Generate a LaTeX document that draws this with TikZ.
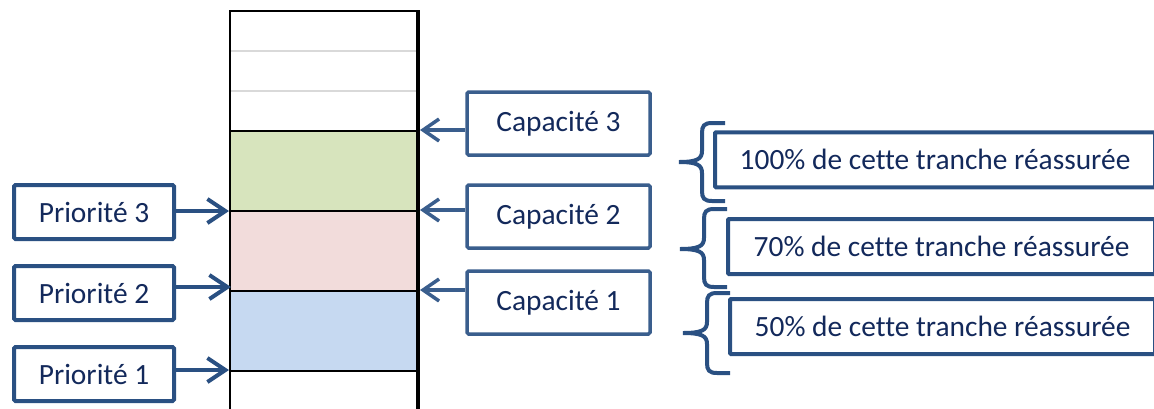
\documentclass[tikz,border=0pt]{standalone}
\usepackage{fontspec}
\newfontfamily\lblfont[Ligatures={NoCommon}]{Carlito}
\usetikzlibrary{arrows.meta}
\definecolor{boxblue}{HTML}{2A5082}
\definecolor{capblue}{HTML}{3A5E8D}
\definecolor{txtblue}{HTML}{13295B}
\definecolor{fgreen}{HTML}{D7E4BD}
\definecolor{fpink}{HTML}{F2DCDB}
\definecolor{fblue}{HTML}{C6D9F1}
\definecolor{lgray}{HTML}{D9D9D9}
\tikzset{
  lbl/.style={font=\lblfont\fontsize{29.4}{34}\selectfont, text=txtblue, inner sep=0pt, fill=white},
  pbox/.style={lbl, draw=boxblue, line width=4pt, rounded corners=1.5pt, minimum width=160pt, minimum height=54pt},
  cbox/.style={lbl, draw=capblue, line width=3.5pt, rounded corners=1.5pt, minimum width=183pt, minimum height=63pt},
  rbox/.style={lbl, draw=boxblue, line width=4pt, rounded corners=1pt, minimum height=55pt},
  arr/.style={draw=boxblue, line width=4pt, -{Straight Barb[length=18pt,width=24pt,line width=4pt]}},
  carr/.style={draw=capblue, line width=3.5pt, -{Straight Barb[length=16pt,width=22pt,line width=3.5pt]}},
  brace/.style={draw=boxblue, line width=4pt},
}
\begin{document}
\begin{tikzpicture}[x=1pt,y=-1pt]
\useasboundingbox (0,0) rectangle (1154,408);
\clip (0,0) rectangle (1154,408);
% column
\fill[fgreen] (230,131) rectangle (418,211);
\fill[fpink] (230,211) rectangle (418,291);
\fill[fblue] (230,291) rectangle (418,371);
\draw[lgray, line width=2pt] (231,51) -- (416,51) (231,91) -- (416,91);
\draw[black, line width=2pt] (230,131) -- (418,131) (230,211) -- (418,211) (230,291) -- (418,291) (230,371) -- (418,371);
\draw[black, line width=2pt] (230,410) -- (230,11) -- (418,11);
\draw[black, line width=4.5pt] (418,10) -- (418,410);
% targets on the column
\coordinate (l3) at (229,211);
\coordinate (l2) at (231,287);
\coordinate (l1) at (229,370);
\coordinate (r3) at (420,130);
\coordinate (r2) at (420,210);
\coordinate (r1) at (420,290);
% left boxes
\node[pbox] (p3) at (94,212) {Priorité 3};
\node[pbox] (p2) at (94,293) {Priorité 2};
\node[pbox] (p1) at (94,374) {Priorité 1};
% capacity boxes
\node[cbox] (c3) at (558.5,123.5) {Capacité 3};
\node[cbox] (c2) at (558.5,216.5) {Capacité 2};
\node[cbox] (c1) at (558.5,302.5) {Capacité 1};
% arrows
\draw[arr] (p3.east |- l3) -- (l3);
\draw[arr] (p2.east |- l2) -- (l2);
\draw[arr] (p1.east |- l1) -- (l1);
\draw[carr] (c3.west |- r3) -- (r3);
\draw[carr] (c2.west |- r2) -- (r2);
\draw[carr] (c1.west |- r1) -- (r1);
% right boxes
\node[rbox, minimum width=440pt] (t100) at (935,159.75) {100\% de cette tranche réassurée};
\node[rbox, minimum width=427pt] (t70) at (941.5,246.5) {70\% de cette tranche réassurée};
\node[rbox, minimum width=425pt] (t50) at (942.5,326.5) {50\% de cette tranche réassurée};
% braces
\draw[brace] (725,123) -- (712,123) .. controls (704,123) and (702,126) .. (702,133)
  -- (702,151) .. controls (702,159) and (697,162) .. (679,162)
  .. controls (697,162) and (702,165) .. (702,173)
  -- (702,191) .. controls (702,198) and (704,201) .. (712,201) -- (725,201);
\draw[brace] (727,209) -- (714,209) .. controls (706,209) and (704,212) .. (704,219)
  -- (704,238) .. controls (704,246) and (699,249) .. (680,249)
  .. controls (699,249) and (704,252) .. (704,260)
  -- (704,277) .. controls (704,284) and (706,287) .. (714,287) -- (727,287);
\draw[brace] (730,293) -- (717,293) .. controls (709,293) and (707,296) .. (707,303)
  -- (707,322) .. controls (707,330) and (702,333) .. (683,333)
  .. controls (702,333) and (707,336) .. (707,344)
  -- (707,363) .. controls (707,370) and (709,373) .. (717,373) -- (730,373);
\end{tikzpicture}
\end{document}
